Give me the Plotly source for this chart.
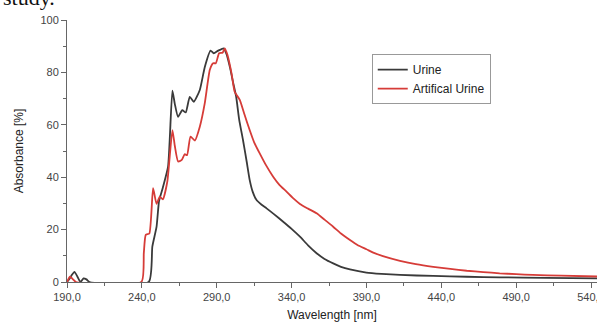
import plotly.graph_objects as go

# Urine (black) spectrum
urine_wl = [190, 192, 193, 195, 197, 199, 201, 203, 205, 244.6, 247, 249.8, 251.5, 254, 257.5, 260.4,
            262, 264.2, 267, 269.3, 272, 274.7, 278.7, 282, 285.9, 288, 291, 294.7, 296.5, 298.8,
            301, 303, 305, 307.6, 310, 312, 314, 316.6, 320, 323.3, 328, 334.4, 340, 345.6, 351,
            356.7, 362, 367.8, 373, 379, 390, 400, 412.4, 434.6, 457, 479, 510, 544]
urine_abs = [0, 1.5, 2.5, 3.9, 2, 0, 1.4, 1, 0, 0, 13.5, 21, 31, 36, 44, 73,
             68, 63, 65.6, 64.7, 70.7, 68.8, 73.3, 82, 88.3, 87.3, 88.3, 89.2, 87, 82,
             76, 70.7, 62, 54, 46, 39, 34.5, 31.3, 29.5, 28.1, 26, 23, 20.3, 17.3, 14,
             11, 8.8, 7.1, 5.8, 4.8, 3.6, 3.1, 2.7, 2.3, 2.0, 1.8, 1.6, 1.4]

# Artificial urine (red) spectrum
art_wl = [190, 192, 194, 196, 239.7, 241.3, 242.6, 245, 247.5, 249.8, 252, 254, 257, 260.4,
          262, 264.2, 266.5, 268.7, 270.2, 272.5, 275.4, 278.7, 282, 285.4, 287.6, 289.4, 291.6,
          293.9, 295.4, 297.2, 299.9, 302, 305.4, 308.5, 312, 315, 318.8, 323, 327.7, 332, 336.6,
          341, 345.6, 351, 356.7, 362, 367.8, 373, 379, 384, 390, 395, 401, 412.4, 423, 434.6,
          446, 457, 468, 479, 490, 501, 520, 544]
art_abs = [0, 2, 1, 0, 0, 11, 18, 18.5, 35.8, 29.8, 32.6, 31.5, 38.3, 58,
           52, 46, 46.5, 48.8, 48.4, 55.5, 54, 59.3, 68.2, 81, 83.5, 83.5, 87.3,
           87.5, 89.2, 86.6, 79.6, 72.6, 69.5, 64, 58, 53.3, 49, 44.5, 40.2, 37, 34.5,
           32, 29.8, 28, 26.2, 23.8, 21.1, 18.5, 16, 14.1, 12.5, 11.1, 9.9, 8.1, 6.8, 5.8,
           5.0, 4.3, 3.8, 3.3, 3.0, 2.7, 2.4, 2.1]

x_tickvals = [190, 240, 290, 340, 390, 440, 490, 540]
x_ticktext = ["190,0", "240,0", "290,0", "340,0", "390,0", "440,0", "490,0", "540,0"]
y_tickvals = [0, 20, 40, 60, 80, 100]

fig = go.Figure()
fig.add_trace(go.Scatter(x=urine_wl, y=urine_abs, mode="lines", name="Urine",
                         line=dict(color="#3a3a3a", width=1.8, shape="spline", smoothing=0.5)))
fig.add_trace(go.Scatter(x=art_wl, y=art_abs, mode="lines", name="Artifical Urine",
                         line=dict(color="#d63c38", width=1.8, shape="spline", smoothing=0.5)))

axis_color = "#666666"
fig.update_layout(
    width=597, height=322,
    margin=dict(l=67, r=0, t=20, b=40),
    paper_bgcolor="white", plot_bgcolor="white",
    font=dict(family="Liberation Sans, Arial, sans-serif", color="#333333"),
    showlegend=True,
    legend=dict(x=0.575, y=0.87, xanchor="left", yanchor="top",
                bordercolor="#999999", borderwidth=1, bgcolor="white",
                font=dict(size=12, color="#222222"), tracegroupgap=0,
                itemwidth=30),
    xaxis=dict(range=[190, 544], tickvals=x_tickvals, ticktext=x_ticktext, automargin=False,
               ticklabeloverflow="allow",
               showgrid=False, zeroline=False, showline=True, linecolor=axis_color,
               linewidth=1, ticks="outside", ticklen=5, tickcolor=axis_color,
               tickfont=dict(size=11, color="#444444"),
               minor=dict(dtick=25, tick0=190, ticks="outside", ticklen=3, tickcolor=axis_color),
               title=dict(text="Wavelength [nm]", font=dict(size=12, color="#222222"), standoff=8)),
    yaxis=dict(range=[0, 100], tickvals=y_tickvals, automargin=False,
               showgrid=False, zeroline=False, showline=True, linecolor=axis_color,
               linewidth=1, ticks="outside", ticklen=5, tickcolor=axis_color,
               tickfont=dict(size=11, color="#444444"),
               minor=dict(dtick=10, tick0=0, ticks="outside", ticklen=3, tickcolor=axis_color),
               title=dict(text="Absorbance [%]", font=dict(size=12, color="#222222"), standoff=14)),
)

fig.add_annotation(text="study.", xref="paper", yref="paper", x=-0.018, y=1.085,
                   xanchor="right", yanchor="middle", showarrow=False,
                   font=dict(family="Liberation Serif, Times New Roman, serif", size=22, color="#111111"))

fig.write_html("out.html", config={"displayModeBar": False},
               post_script="document.body.style.margin='0';")
